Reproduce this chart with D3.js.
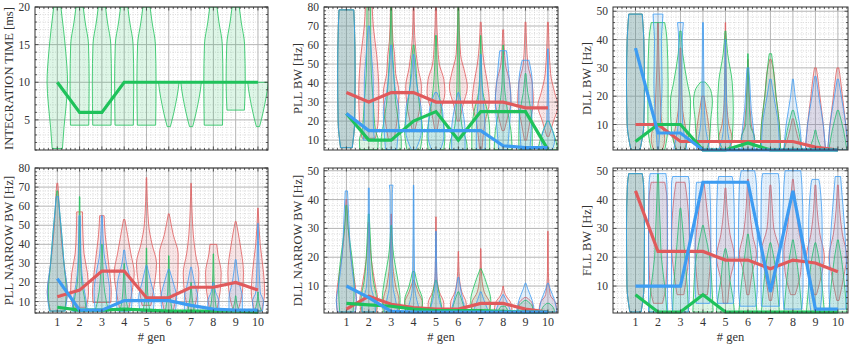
<!DOCTYPE html>
<html>
<head>
<meta charset="utf-8">
<script src="https://cdn.jsdelivr.net/npm/d3@7"></script>
<style>
  body { margin: 0; background: #fff; }
</style>
</head>
<body>
<div id="chart"></div>
<script>
// generations on the x axis
var gens = [1, 2, 3, 4, 5, 6, 7, 8, 9, 10];

// medians per generation
var itMedGreen = [10, 6, 6, 10, 10, 10, 10, 10, 10, 10];
var pllMedRed = [35, 30, 35, 35, 30, 30, 30, 30, 27, 27];
var pllMedGreen = [24, 10, 10, 20, 25, 10, 25, 25, 25, 5];
var pllMedBlue = [24, 15, 15, 15, 15, 15, 15, 7, 6, 6];
var dllMedRed = [10, 10, 4, 4, 4, 4, 4, 4, 2, 1];
var dllMedGreen = [4, 10, 10, 1, 1, 3.5, 1, 1, 1, 1];
var dllMedBlue = [37, 7, 7, 1, 1, 1, 1, 1, 1, 1];
var pllnMedRed = [12.5, 16, 26, 26, 12, 12, 17.5, 17.5, 20, 16];
var pllnMedGreen = [7, 5.5, 5.5, 6, 5.5, 5, 5, 5, 5, 4.5];
var pllnMedBlue = [22, 5.5, 5.5, 10.5, 10.5, 10.5, 8, 6, 5.5, 5.5];
var dllnMedRed = [2, 6.5, 3.7, 2.5, 2, 2, 4, 4, 2, 1];
var dllnMedGreen = [4, 3.5, 3, 2, 1.5, 1.5, 1.5, 1.2, 1, 1];
var dllnMedBlue = [10, 6, 1.2, 1, 1, 1, 1, 1, 1, 1];
var fllMedRed = [43, 22, 22, 22, 19, 19, 16, 19, 18, 15];
var fllMedGreen = [7, 1, 1, 7, 1, 1, 1, 1, 1, 1];
var fllMedBlue = [10, 10, 10, 46, 46, 46, 8, 43, 2, 2];

// violin profiles: one per generation, [value, half width in gen units]
var itGreen = [
  [[1.2, 0.23], [4, 0.3], [7, 0.4], [10, 0.46], [14, 0.38], [17, 0.28], [20, 0.16]],
  [[4.3, 0.41], [10, 0.43], [15, 0.4], [18, 0.25], [20, 0.16]],
  [[4.3, 0.41], [10, 0.43], [15, 0.4], [18, 0.25], [20, 0.16]],
  [[4.3, 0.41], [10, 0.43], [15, 0.4], [18, 0.25], [20, 0.16]],
  [[4.3, 0.41], [10, 0.43], [15, 0.4], [18, 0.25], [20, 0.16]],
  [[4.1, 0.07], [5, 0.15], [7, 0.3], [9, 0.42], [10, 0.46]],
  [[4.1, 0.07], [5, 0.15], [7, 0.3], [9, 0.42], [10, 0.46]],
  [[4.3, 0.41], [10, 0.43], [15, 0.4], [18, 0.25], [20, 0.16]],
  [[6.3, 0.39], [10, 0.43], [15, 0.4], [18, 0.25], [20, 0.16]],
  [[4.1, 0.07], [5, 0.15], [7, 0.3], [9, 0.42], [10, 0.46]]
];

var pllRed = [
  [[6, 0.26], [20, 0.37], [45, 0.39], [70, 0.36], [78.5, 0.33]],
  [[11, 0.3], [20, 0.42], [35, 0.45], [55, 0.35], [70, 0.2], [80, 0.15]],
  [[10, 0.12], [15, 0.2], [25, 0.3], [35, 0.35], [45, 0.2], [55, 0.15], [62, 0.08], [80, 0.03]],
  [[15, 0.05], [25, 0.25], [38, 0.35], [48, 0.2], [55, 0.12], [65, 0.05], [80, 0.02]],
  [[15, 0.05], [25, 0.2], [35, 0.4], [42, 0.35], [50, 0.15], [60, 0.08], [80, 0.02]],
  [[20, 0.05], [28, 0.2], [38, 0.4], [45, 0.3], [55, 0.1], [80, 0.02]],
  [[5, 0.05], [20, 0.2], [30, 0.38], [40, 0.3], [50, 0.15], [72, 0.02]],
  [[15, 0.05], [22, 0.2], [30, 0.35], [40, 0.3], [50, 0.1], [68, 0.02]],
  [[10, 0.05], [20, 0.2], [30, 0.35], [40, 0.3], [50, 0.1], [72, 0.02]],
  [[12, 0.05], [20, 0.25], [28, 0.45], [35, 0.3], [45, 0.12], [72, 0.02]]
];
var pllGreen = [
  [[6, 0.26], [20, 0.37], [45, 0.39], [70, 0.36], [78.5, 0.33]],
  [[5, 0.4], [10, 0.42], [15, 0.3], [30, 0.2], [50, 0.1], [80, 0.08]],
  [[5, 0.45], [10, 0.45], [18, 0.35], [30, 0.2], [45, 0.12], [60, 0.05], [80, 0.02]],
  [[5, 0.3], [15, 0.4], [25, 0.3], [40, 0.15], [50, 0.1], [60, 0.02]],
  [[5, 0.35], [12, 0.4], [25, 0.25], [40, 0.1], [65, 0.02]],
  [[5, 0.4], [10, 0.35], [15, 0.2], [25, 0.1], [50, 0.05], [80, 0.02]],
  [[5, 0.4], [15, 0.4], [25, 0.3], [35, 0.1], [50, 0.03], [65, 0.01]],
  [[5, 0.4], [15, 0.35], [25, 0.2], [40, 0.05], [60, 0.01]],
  [[5, 0.3], [15, 0.3], [25, 0.25], [35, 0.1], [45, 0.02]],
  [[5, 0.45], [10, 0.35], [20, 0.05]]
];
var pllBlue = [
  [[6, 0.26], [20, 0.37], [45, 0.39], [70, 0.36], [78.5, 0.33]],
  [[10, 0.25], [20, 0.2], [40, 0.2], [55, 0.12], [70, 0.03]],
  [[5, 0.25], [12, 0.3], [25, 0.35], [35, 0.2], [45, 0.1], [60, 0.02]],
  [[5, 0.1], [15, 0.35], [25, 0.35], [35, 0.2], [45, 0.08], [55, 0.02]],
  [[5, 0.2], [12, 0.35], [25, 0.3], [35, 0.05]],
  [[5, 0.3], [15, 0.3], [25, 0.2], [35, 0.02]],
  [[5, 0.2], [15, 0.2], [25, 0.15], [40, 0.05], [55, 0.02]],
  [[5, 0.2], [20, 0.3], [30, 0.35], [45, 0.25], [52, 0.2], [57, 0.15]],
  [[5, 0.2], [15, 0.25], [30, 0.3], [40, 0.3], [52, 0.15]],
  [[5, 0.2], [10, 0.3], [15, 0.2], [20, 0.05], [58, 0.01]]
];

var dllRed = [
  [[1, 0.2], [10, 0.37], [25, 0.4], [40, 0.37], [49, 0.3]],
  [[1, 0.2], [5, 0.3], [12, 0.15], [20, 0.1], [30, 0.05], [46, 0.02]],
  [[1, 0.15], [5, 0.3], [10, 0.2], [15, 0.1], [25, 0.05], [37, 0.02]],
  [[1, 0.2], [5, 0.3], [10, 0.25], [15, 0.15], [20, 0.05]],
  [[1, 0.2], [5, 0.3], [10, 0.15], [20, 0.05], [46, 0.01]],
  [[1, 0.15], [5, 0.3], [10, 0.15], [33, 0.01]],
  [[1, 0.45], [10, 0.4], [20, 0.25], [30, 0.12], [33, 0.03]],
  [[1, 0.4], [6, 0.2], [12, 0.03]],
  [[1, 0.45], [10, 0.35], [20, 0.2], [28, 0.08], [30, 0.04]],
  [[1, 0.45], [10, 0.35], [20, 0.2], [28, 0.08], [30, 0.04]]
];
var dllGreen = [
  [[1, 0.2], [10, 0.37], [25, 0.4], [40, 0.37], [49, 0.3]],
  [[1, 0.3], [10, 0.45], [25, 0.45], [40, 0.4], [46, 0.3]],
  [[1, 0.2], [8, 0.4], [18, 0.45], [25, 0.3], [35, 0.1], [43, 0.03]],
  [[1, 0.15], [5, 0.3], [12, 0.35], [18, 0.42], [22, 0.35], [25, 0.1]],
  [[1, 0.1], [5, 0.3], [15, 0.35], [25, 0.3], [35, 0.1], [43, 0.02]],
  [[1, 0.2], [5, 0.3], [10, 0.1], [35, 0.01]],
  [[1, 0.45], [10, 0.4], [20, 0.25], [32, 0.1], [35, 0.05]],
  [[1, 0.4], [8, 0.25], [15, 0.03]],
  [[1, 0.3], [5, 0.1], [8, 0.02]],
  [[1, 0.4], [8, 0.25], [15, 0.03]]
];
var dllBlue = [
  [[1, 0.2], [10, 0.37], [25, 0.4], [40, 0.37], [49, 0.3]],
  [[1, 0.03], [10, 0.1], [25, 0.18], [40, 0.15], [46, 0.2], [49, 0.22]],
  [[1, 0.3], [5, 0.2], [10, 0.1], [20, 0.06], [40, 0.08], [46, 0.13]],
  [[1, 0.3], [5, 0.2], [10, 0.1], [20, 0.05], [46, 0.02]],
  [[1, 0.3], [5, 0.15], [10, 0.08], [40, 0.01]],
  [[1, 0.3], [8, 0.25], [15, 0.15], [25, 0.08], [30, 0.04]],
  [[1, 0.4], [10, 0.35], [20, 0.15], [26, 0.03]],
  [[1, 0.4], [10, 0.3], [20, 0.1], [26, 0.02]],
  [[1, 0.45], [10, 0.35], [20, 0.15], [27, 0.03]],
  [[1, 0.45], [10, 0.35], [20, 0.15], [26, 0.03]]
];

var pllnRed = [
  [[5, 0.3], [15, 0.45], [25, 0.35], [40, 0.2], [55, 0.1], [68, 0.05], [72, 0.02]],
  [[7, 0.3], [15, 0.4], [25, 0.35], [35, 0.2], [45, 0.15], [55, 0.13], [57, 0.13]],
  [[9.5, 0.4], [15, 0.42], [25, 0.35], [35, 0.25], [45, 0.15], [55, 0.1]],
  [[6, 0.2], [15, 0.35], [25, 0.45], [35, 0.3], [45, 0.15], [53, 0.03]],
  [[8, 0.2], [15, 0.3], [30, 0.45], [40, 0.25], [50, 0.1], [75, 0.01]],
  [[5, 0.2], [20, 0.4], [35, 0.42], [45, 0.2], [56, 0.02]],
  [[5, 0.1], [15, 0.3], [25, 0.35], [35, 0.2], [45, 0.1], [72, 0.01]],
  [[5, 0.15], [15, 0.3], [25, 0.35], [35, 0.2], [40, 0.15]],
  [[5, 0.1], [15, 0.3], [25, 0.35], [40, 0.2], [52, 0.02]],
  [[5, 0.15], [15, 0.3], [25, 0.25], [40, 0.1], [59, 0.01]]
];
var pllnGreen = [
  [[5, 0.35], [15, 0.4], [30, 0.3], [45, 0.2], [60, 0.08], [68, 0.02]],
  [[5, 0.3], [10, 0.25], [20, 0.1], [35, 0.04], [65, 0.01]],
  [[5, 0.3], [10, 0.2], [20, 0.08], [40, 0.02]],
  [[5, 0.2], [10, 0.1], [20, 0.04], [30, 0.01]],
  [[5, 0.15], [15, 0.05], [38, 0.01]],
  [[5, 0.15], [15, 0.05], [34, 0.01]],
  [[5, 0.15], [12, 0.05], [20, 0.01]],
  [[5, 0.15], [15, 0.05], [35, 0.01]],
  [[5, 0.15], [10, 0.04], [13, 0.01]],
  [[5, 0.15], [10, 0.04], [15, 0.01]]
];
var pllnBlue = [
  [[5, 0.35], [15, 0.45], [30, 0.3], [45, 0.2], [58, 0.1], [65, 0.05]],
  [[5, 0.35], [10, 0.3], [20, 0.15], [35, 0.06], [55, 0.03]],
  [[5, 0.3], [15, 0.35], [25, 0.25], [35, 0.1], [55, 0.02]],
  [[5, 0.3], [10, 0.35], [20, 0.3], [30, 0.1], [37, 0.02]],
  [[5, 0.3], [12, 0.35], [20, 0.2], [29, 0.02]],
  [[5, 0.3], [12, 0.35], [20, 0.2], [27, 0.02]],
  [[5, 0.3], [12, 0.3], [20, 0.15], [28, 0.02]],
  [[5, 0.25], [10, 0.25], [15, 0.1], [20, 0.02]],
  [[5, 0.3], [12, 0.3], [20, 0.15], [32, 0.02]],
  [[5, 0.2], [10, 0.25], [15, 0.1], [51, 0.01]]
];

var dllnRed = [
  [[1, 0.4], [5, 0.45], [10, 0.4], [20, 0.2], [30, 0.08], [40, 0.02]],
  [[1, 0.35], [5, 0.4], [10, 0.3], [20, 0.1], [32, 0.02]],
  [[1, 0.3], [5, 0.35], [10, 0.2], [20, 0.05], [35, 0.01]],
  [[1, 0.35], [4, 0.4], [8, 0.2], [12, 0.02]],
  [[1, 0.35], [4, 0.35], [8, 0.15], [15, 0.03], [34, 0.01]],
  [[1, 0.35], [4, 0.35], [8, 0.15], [15, 0.03], [22, 0.01]],
  [[1, 0.4], [4, 0.4], [8, 0.15], [15, 0.03], [23, 0.01]],
  [[1, 0.4], [4, 0.35], [7, 0.1], [10, 0.01]],
  [[1, 0.35], [4, 0.3], [6, 0.05]],
  [[1, 0.4], [4, 0.35], [7, 0.1], [15, 0.02], [29, 0.01]]
];
var dllnGreen = [
  [[1, 0.3], [10, 0.35], [20, 0.25], [30, 0.08], [38, 0.02]],
  [[1, 0.3], [5, 0.35], [12, 0.2], [25, 0.08], [35, 0.02]],
  [[1, 0.35], [5, 0.4], [12, 0.3], [20, 0.12], [31, 0.02]],
  [[1, 0.35], [5, 0.4], [10, 0.2], [15, 0.05]],
  [[1, 0.3], [5, 0.2], [10, 0.08], [12, 0.02]],
  [[1, 0.3], [4, 0.2], [8, 0.02]],
  [[1, 0.4], [5, 0.45], [10, 0.3], [16, 0.02]],
  [[1, 0.25], [3, 0.1]],
  [[1, 0.35], [3, 0.3], [5, 0.05]],
  [[1, 0.3], [3, 0.2], [4, 0.05]]
];
var dllnBlue = [
  [[1, 0.4], [5, 0.45], [10, 0.35], [20, 0.2], [35, 0.1], [43, 0.05]],
  [[1, 0.3], [5, 0.25], [10, 0.1], [20, 0.04], [44, 0.02]],
  [[1, 0.3], [5, 0.2], [10, 0.08], [20, 0.04], [42, 0.05], [45, 0.08]],
  [[1, 0.3], [5, 0.15], [10, 0.05], [45, 0.01]],
  [[1, 0.3], [5, 0.15], [10, 0.05], [29, 0.01]],
  [[1, 0.35], [5, 0.2], [10, 0.08], [13, 0.02]],
  [[1, 0.35], [5, 0.15], [8, 0.02]],
  [[1, 0.35], [4, 0.2], [7, 0.02]],
  [[1, 0.4], [5, 0.3], [9, 0.1], [11, 0.02]],
  [[1, 0.4], [5, 0.3], [9, 0.1], [11, 0.02]]
];

var fllRed = [
  [[1, 0.25], [10, 0.38], [30, 0.4], [45, 0.36], [49, 0.3]],
  [[4, 0.2], [10, 0.35], [25, 0.42], [40, 0.4], [46, 0.3]],
  [[7, 0.15], [15, 0.3], [25, 0.4], [40, 0.3], [46, 0.2]],
  [[7, 0.2], [15, 0.3], [22, 0.35], [35, 0.2], [46, 0.05]],
  [[4, 0.1], [12, 0.2], [20, 0.4], [28, 0.2], [44, 0.02]],
  [[7, 0.05], [15, 0.2], [21, 0.38], [28, 0.2], [47, 0.02]],
  [[5, 0.05], [15, 0.25], [22, 0.4], [30, 0.15], [35, 0.1], [45, 0.02]],
  [[7, 0.1], [15, 0.35], [22, 0.4], [30, 0.25], [47, 0.02]],
  [[7, 0.05], [15, 0.3], [20, 0.4], [28, 0.2], [45, 0.02]],
  [[5, 0.05], [15, 0.3], [20, 0.4], [28, 0.2], [45, 0.02]]
];
var fllGreen = [
  [[1, 0.25], [10, 0.38], [30, 0.4], [45, 0.36], [49, 0.3]],
  [[1, 0.4], [10, 0.3], [20, 0.15], [30, 0.1], [40, 0.05], [49, 0.02]],
  [[1, 0.35], [10, 0.3], [20, 0.2], [30, 0.1], [37, 0.02]],
  [[1, 0.45], [10, 0.4], [20, 0.3], [28, 0.1], [31, 0.02]],
  [[1, 0.4], [5, 0.35], [12, 0.2], [20, 0.1], [23, 0.02]],
  [[1, 0.4], [10, 0.3], [20, 0.15], [28, 0.02]],
  [[1, 0.4], [10, 0.3], [20, 0.15], [25, 0.02]],
  [[1, 0.4], [10, 0.3], [20, 0.15], [26, 0.02]],
  [[1, 0.4], [10, 0.3], [20, 0.15], [25, 0.02]],
  [[1, 0.4], [10, 0.3], [20, 0.15], [26, 0.02]]
];
var fllBlue = [
  [[1, 0.25], [10, 0.38], [30, 0.4], [45, 0.36], [49, 0.3]],
  [[1, 0.42], [10, 0.42], [30, 0.42], [45, 0.4], [49, 0.35]],
  [[1, 0.35], [10, 0.4], [30, 0.4], [45, 0.4], [48, 0.35]],
  [[4, 0.3], [10, 0.35], [30, 0.35], [45, 0.3], [46, 0.28]],
  [[4, 0.35], [10, 0.4], [30, 0.4], [45, 0.35], [48, 0.3]],
  [[3, 0.35], [10, 0.42], [30, 0.42], [45, 0.38], [50, 0.3]],
  [[3, 0.4], [10, 0.42], [30, 0.42], [45, 0.4], [49, 0.35]],
  [[2, 0.4], [10, 0.45], [30, 0.45], [45, 0.4], [50, 0.35]],
  [[1, 0.2], [10, 0.3], [30, 0.3], [45, 0.2], [47, 0.15]],
  [[2, 0.35], [10, 0.4], [30, 0.3], [45, 0.15], [48, 0.12]]
];

var colors = { red: "#e05a5c", green: "#1fc25b", blue: "#3d9cf2" };

var panels = [
  { title: "INTEGRATION TIME [ms]", col: 0, row: 0, domain: [1, 20], ticks: [5, 10, 15, 20], minor: 1,
    series: [["green", itGreen, itMedGreen]] },
  { title: "PLL BW [Hz]", col: 1, row: 0, domain: [4.8, 80], ticks: [10, 20, 30, 40, 50, 60, 70, 80], minor: 2,
    series: [["red", pllRed, pllMedRed], ["green", pllGreen, pllMedGreen], ["blue", pllBlue, pllMedBlue]] },
  { title: "DLL BW [Hz]", col: 2, row: 0, domain: [1, 51.5], ticks: [10, 20, 30, 40, 50], minor: 2,
    series: [["red", dllRed, dllMedRed], ["green", dllGreen, dllMedGreen], ["blue", dllBlue, dllMedBlue]] },
  { title: "PLL NARROW BW [Hz]", col: 0, row: 1, domain: [4, 80], ticks: [10, 20, 30, 40, 50, 60, 70, 80], minor: 2,
    series: [["red", pllnRed, pllnMedRed], ["green", pllnGreen, pllnMedGreen], ["blue", pllnBlue, pllnMedBlue]] },
  { title: "DLL NARROW BW [Hz]", col: 1, row: 1, domain: [0.65, 50.95], ticks: [10, 20, 30, 40, 50], minor: 2,
    series: [["red", dllnRed, dllnMedRed], ["green", dllnGreen, dllnMedGreen], ["blue", dllnBlue, dllnMedBlue]] },
  { title: "FLL BW [Hz]", col: 2, row: 1, domain: [0.65, 50.95], ticks: [10, 20, 30, 40, 50], minor: 2,
    series: [["red", fllRed, fllMedRed], ["green", fllGreen, fllMedGreen], ["blue", fllBlue, fllMedBlue]] }
];

var svgWidth = 850, svgHeight = 345;
var colLeft = [35, 324, 613], colRight = [268, 558, 848];
var rowTop = [7, 168], rowBottom = [150, 313];
var serif = "'Liberation Serif', 'Times New Roman', serif";

var svg = d3.select("#chart")
  .append("svg")
  .attr("width", svgWidth)
  .attr("height", svgHeight)
  .attr("font-family", serif);

var xMinor = d3.range(1, 53).map(function(k) { return k * 0.2; })
  .filter(function(v, i) { return (i + 1) % 5 !== 0; });

panels.forEach(function(p, pi) {
  var left = colLeft[p.col], right = colRight[p.col];
  var top = rowTop[p.row], bottom = rowBottom[p.row];

  var x = d3.scaleLinear().domain([0, 10.45]).range([left, right]);
  var y = d3.scaleLinear().domain(p.domain).range([bottom, top]);

  var step = p.ticks[1] - p.ticks[0];
  var yMinor = d3.range(Math.ceil(p.domain[0] / p.minor), Math.floor(p.domain[1] / p.minor) + 1)
    .map(function(k) { return k * p.minor; })
    .filter(function(v) { return v % step !== 0; });

  var g = svg.append("g");

  svg.append("clipPath").attr("id", "clip" + pi)
    .append("rect")
    .attr("x", left).attr("y", top)
    .attr("width", right - left).attr("height", bottom - top);

  // minor dotted grid
  g.selectAll(".vminor").data(xMinor).enter().append("line")
    .attr("x1", function(d) { return x(d); }).attr("x2", function(d) { return x(d); })
    .attr("y1", top).attr("y2", bottom)
    .attr("stroke", "#cfcfcf").attr("stroke-width", 0.7).attr("stroke-dasharray", "1,1.5");
  g.selectAll(".hminor").data(yMinor).enter().append("line")
    .attr("x1", left).attr("x2", right)
    .attr("y1", function(d) { return y(d); }).attr("y2", function(d) { return y(d); })
    .attr("stroke", "#cfcfcf").attr("stroke-width", 0.7).attr("stroke-dasharray", "1,1.5");

  // major grid
  g.selectAll(".vmajor").data(gens).enter().append("line")
    .attr("x1", function(d) { return x(d); }).attr("x2", function(d) { return x(d); })
    .attr("y1", top).attr("y2", bottom)
    .attr("stroke", "#b5b5b5").attr("stroke-width", 1);
  g.selectAll(".hmajor").data(p.ticks).enter().append("line")
    .attr("x1", left).attr("x2", right)
    .attr("y1", function(d) { return y(d); }).attr("y2", function(d) { return y(d); })
    .attr("stroke", "#b5b5b5").attr("stroke-width", 1);

  // violins
  var vg = g.append("g").attr("clip-path", "url(#clip" + pi + ")");
  p.series.forEach(function(s) {
    var color = colors[s[0]];
    s[1].forEach(function(prof, gi) {
      var gen = gens[gi];
      var area = d3.area()
        .y(function(d) { return y(d[0]); })
        .x0(function(d) { return x(gen - d[1]); })
        .x1(function(d) { return x(gen + d[1]); })
        .curve(d3.curveMonotoneY);
      vg.append("path")
        .attr("d", area(prof))
        .attr("fill", color).attr("fill-opacity", 0.15)
        .attr("stroke", color).attr("stroke-width", 0.8);
    });
  });

  // median lines
  p.series.forEach(function(s) {
    var line = d3.line()
      .x(function(d, i) { return x(gens[i]); })
      .y(function(d) { return y(d); });
    g.append("path")
      .attr("d", line(s[2]))
      .attr("fill", "none")
      .attr("stroke", colors[s[0]])
      .attr("stroke-width", 3.2);
  });

  // frame with inward ticks on all sides
  g.append("rect")
    .attr("x", left).attr("y", top)
    .attr("width", right - left).attr("height", bottom - top)
    .attr("fill", "none").attr("stroke", "#333").attr("stroke-width", 1);

  var xt = gens.map(function(d) { return [d, 3.5]; }).concat(xMinor.map(function(d) { return [d, 2]; }));
  var yt = p.ticks.map(function(d) { return [d, 3.5]; }).concat(yMinor.map(function(d) { return [d, 2]; }));
  xt.forEach(function(t) {
    g.append("line").attr("x1", x(t[0])).attr("x2", x(t[0])).attr("y1", bottom).attr("y2", bottom - t[1])
      .attr("stroke", "#333").attr("stroke-width", 0.8);
    g.append("line").attr("x1", x(t[0])).attr("x2", x(t[0])).attr("y1", top).attr("y2", top + t[1])
      .attr("stroke", "#333").attr("stroke-width", 0.8);
  });
  yt.forEach(function(t) {
    g.append("line").attr("x1", left).attr("x2", left + t[1]).attr("y1", y(t[0])).attr("y2", y(t[0]))
      .attr("stroke", "#333").attr("stroke-width", 0.8);
    g.append("line").attr("x1", right).attr("x2", right - t[1]).attr("y1", y(t[0])).attr("y2", y(t[0]))
      .attr("stroke", "#333").attr("stroke-width", 0.8);
  });

  // y tick labels
  g.selectAll(".ylab").data(p.ticks).enter().append("text")
    .attr("x", left - 5)
    .attr("y", function(d) { return y(d); })
    .attr("dy", "0.35em")
    .attr("text-anchor", "end")
    .attr("font-family", serif)
    .attr("font-size", 11.5)
    .attr("fill", "#333")
    .text(function(d) { return d; });

  // y title
  g.append("text")
    .attr("transform", "translate(" + (left - 26) + "," + ((top + bottom) / 2) + ") rotate(-90)")
    .attr("text-anchor", "middle")
    .attr("dy", "0.35em")
    .attr("font-family", serif)
    .attr("font-size", 12.5)
    .attr("fill", "#333")
    .text(p.title);

  // x labels on bottom row
  if (p.row === 1) {
    g.selectAll(".xlab").data(gens).enter().append("text")
      .attr("x", function(d) { return x(d); })
      .attr("y", bottom + 9)
      .attr("dy", "0.35em")
      .attr("text-anchor", "middle")
      .attr("font-family", serif)
      .attr("font-size", 12)
      .attr("fill", "#333")
      .text(function(d) { return d; });
    g.append("text")
      .attr("x", (left + right) / 2)
      .attr("y", bottom + 24)
      .attr("dy", "0.35em")
      .attr("text-anchor", "middle")
      .attr("font-family", serif)
      .attr("font-size", 12.5)
      .attr("fill", "#333")
      .text("# gen");
  }
});
</script>
</body>
</html>
